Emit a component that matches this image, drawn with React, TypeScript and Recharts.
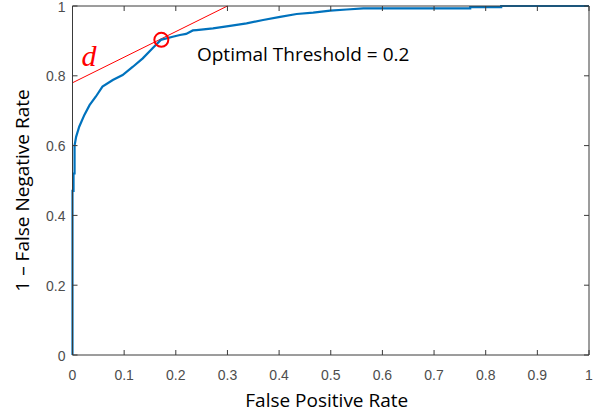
import React from 'react';
import { ComposedChart, Line, Scatter, XAxis, YAxis } from 'recharts';

// ROC curve points (false positive rate, 1 - false negative rate)
const fpr = [0, 0, 0.002, 0.002, 0.004, 0.004, 0.007, 0.013, 0.023, 0.033, 0.045, 0.058, 0.078, 0.097, 0.117, 0.136, 0.155, 0.171, 0.194, 0.208, 0.22, 0.233, 0.24, 0.272, 0.305, 0.337, 0.369, 0.402, 0.434, 0.466, 0.499, 0.531, 0.563, 0.77, 0.77, 0.83, 0.83, 1];
const tpr = [0, 0.47, 0.47, 0.52, 0.52, 0.6, 0.625, 0.654, 0.688, 0.716, 0.74, 0.769, 0.788, 0.802, 0.826, 0.85, 0.879, 0.903, 0.912, 0.917, 0.92, 0.93, 0.931, 0.936, 0.943, 0.95, 0.96, 0.969, 0.977, 0.981, 0.987, 0.99, 0.993, 0.993, 0.997, 0.997, 1, 1];

// tangent line d
const tangentX = [0, 0.3];
const tangentY = [0.78, 1];

// optimal point
const optimalX = 0.172;
const optimalY = 0.903;
const optimalLabel = 'Optimal Threshold = 0.2';

const xTicks = [0, 0.1, 0.2, 0.3, 0.4, 0.5, 0.6, 0.7, 0.8, 0.9, 1];
const yTicks = [0, 0.2, 0.4, 0.6, 0.8, 1];
const xTickLabels = ['0', '0.1', '0.2', '0.3', '0.4', '0.5', '0.6', '0.7', '0.8', '0.9', '1'];
const yTickLabels = ['0', '0.2', '0.4', '0.6', '0.8', '1'];

const rocData = fpr.map((x, i) => ({ x, y: tpr[i] }));
const tangentData = tangentX.map((x, i) => ({ x, y: tangentY[i] }));
const optimalData = [{ x: optimalX, y: optimalY }];
const dLabelData = [{ x: 0.032, y: 0.86 }];
const textData = [{ x: 0.241, y: 0.842 }];

const AXIS = '#3a3a3a';
const TICK_TEXT = '#4d4d4d';
const LABEL_FONT = '"Open Sans", sans-serif';
const TICK_FONT = '"Liberation Sans", Arial, sans-serif';

const BottomTick = (props: any) => {
  const { x, y, index } = props;
  return (
    <g>
      <line x1={x} y1={y} x2={x} y2={y - 5} stroke={AXIS} strokeWidth={1} />
      <text x={x} y={y + 25} textAnchor="middle" fill={TICK_TEXT} fontSize={14} fontFamily={TICK_FONT}>
        {xTickLabels[index]}
      </text>
    </g>
  );
};

const LeftTick = (props: any) => {
  const { x, y, index } = props;
  return (
    <g>
      <line x1={x} y1={y} x2={x + 5} y2={y} stroke={AXIS} strokeWidth={1} />
      <text x={x - 7} y={y + 5.5} textAnchor="end" fill={TICK_TEXT} fontSize={14} fontFamily={TICK_FONT}>
        {yTickLabels[index]}
      </text>
    </g>
  );
};

const TopTick = (props: any) => {
  const { x, y } = props;
  return <line x1={x} y1={y} x2={x} y2={y + 5} stroke={AXIS} strokeWidth={1} />;
};

const RightTick = (props: any) => {
  const { x, y } = props;
  return <line x1={x} y1={y} x2={x - 5} y2={y} stroke={AXIS} strokeWidth={1} />;
};

const XLabel = (props: any) => {
  const { viewBox } = props;
  const cx = viewBox.x + viewBox.width / 2 - 4;
  return (
    <text x={cx} y={viewBox.y + 52} textAnchor="middle" fill="#000" fontSize={19} fontFamily={LABEL_FONT}>
      False Positive Rate
    </text>
  );
};

const YLabel = (props: any) => {
  const { viewBox } = props;
  const cx = 29;
  const cy = viewBox.y + viewBox.height / 2 + 10;
  return (
    <text x={cx} y={cy} transform={`rotate(-90 ${cx} ${cy})`} textAnchor="middle" fill="#000" fontSize={19} fontFamily={LABEL_FONT}>
      1 – False Negative Rate
    </text>
  );
};

const CircleShape = (props: any) => {
  const { cx, cy } = props;
  return <circle cx={cx} cy={cy} r={7} fill="none" stroke="#ff0000" strokeWidth={2} />;
};

const DShape = (props: any) => {
  const { cx, cy } = props;
  return (
    <text x={cx} y={cy + 11} textAnchor="middle" fill="#ff0000" fontSize={30} fontStyle="italic" fontFamily='"Liberation Serif", "Times New Roman", serif'>
      d
    </text>
  );
};

const TextShape = (props: any) => {
  const { cx, cy } = props;
  return (
    <text x={cx} y={cy} textAnchor="start" fill="#000" fontSize={19} fontFamily={LABEL_FONT}>
      {optimalLabel}
    </text>
  );
};

export default function App() {
  return (
    <div style={{ position: 'absolute', left: 0, top: 0, width: 602, height: 420, background: '#fff' }}>
      <ComposedChart width={602} height={420} margin={{ top: 5, right: 12, bottom: 0, left: 0 }}>
        <XAxis
          xAxisId="b"
          dataKey="x"
          type="number"
          domain={[0, 1]}
          ticks={xTicks}
          interval={0}
          height={65}
          tickSize={0}
          tickMargin={0}
          tick={<BottomTick />}
          axisLine={{ stroke: AXIS, strokeWidth: 1 }}
          tickLine={false}
          label={<XLabel />}
        />
        <XAxis
          xAxisId="t"
          orientation="top"
          dataKey="x"
          type="number"
          domain={[0, 1]}
          ticks={xTicks}
          interval={0}
          height={1}
          tickSize={0}
          tickMargin={0}
          tick={<TopTick />}
          axisLine={{ stroke: AXIS, strokeWidth: 1 }}
          tickLine={false}
        />
        <YAxis
          yAxisId="l"
          dataKey="y"
          type="number"
          domain={[0, 1]}
          ticks={yTicks}
          interval={0}
          width={72.5}
          tickSize={0}
          tickMargin={0}
          tick={<LeftTick />}
          axisLine={{ stroke: AXIS, strokeWidth: 1 }}
          tickLine={false}
          label={<YLabel />}
        />
        <YAxis
          yAxisId="r"
          orientation="right"
          dataKey="y"
          type="number"
          domain={[0, 1]}
          ticks={yTicks}
          interval={0}
          width={1}
          tickSize={0}
          tickMargin={0}
          tick={<RightTick />}
          axisLine={{ stroke: AXIS, strokeWidth: 1 }}
          tickLine={false}
        />
        <Line
          xAxisId="t"
          yAxisId="r"
          data={tangentData}
          dataKey="y"
          type="linear"
          stroke="#ff0000"
          strokeWidth={1}
          dot={false}
          activeDot={false}
          isAnimationActive={false}
        />
        <Line
          xAxisId="b"
          yAxisId="l"
          data={rocData}
          dataKey="y"
          type="linear"
          stroke="#0072BD"
          strokeWidth={2.2}
          dot={false}
          activeDot={false}
          isAnimationActive={false}
        />
        <Scatter xAxisId="b" yAxisId="l" data={optimalData} dataKey="y" shape={<CircleShape />} isAnimationActive={false} />
        <Scatter xAxisId="b" yAxisId="l" data={dLabelData} dataKey="y" shape={<DShape />} isAnimationActive={false} />
        <Scatter xAxisId="b" yAxisId="l" data={textData} dataKey="y" shape={<TextShape />} isAnimationActive={false} />
      </ComposedChart>
    </div>
  );
}
